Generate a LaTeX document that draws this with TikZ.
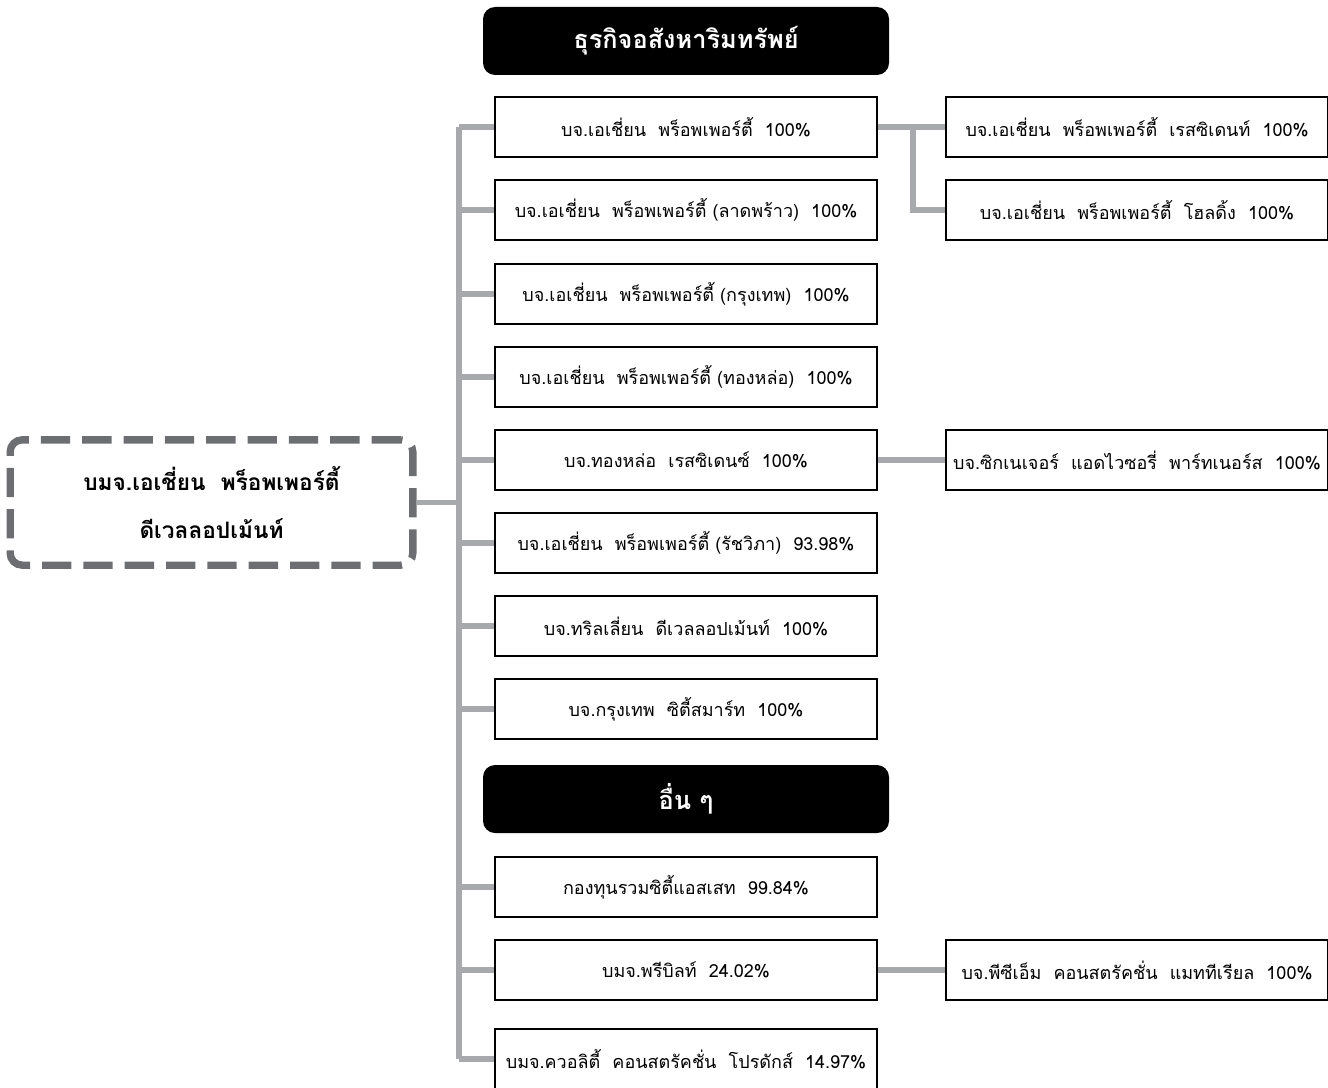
\documentclass[tikz,border=0pt]{standalone}
\usepackage{fontspec}
\newfontfamily\thaifont[Script=Thai]{Loma}
\definecolor{connGray}{HTML}{A7A9AC}
\definecolor{dashGray}{HTML}{6D6E71}
\begin{document}
\begin{tikzpicture}[
    x=0.75pt, y=-0.75pt,
    box/.style={draw, line width=0.9pt, minimum width=286.5pt,
                minimum height=45pt, font=\thaifont\fontsize{13.5}{16}\selectfont, align=center},
    hdr/.style={fill=black, rounded corners=9pt, minimum width=304.5pt,
                minimum height=51pt, text=white, font=\thaifont\bfseries\fontsize{19}{22}\selectfont},
    conn/.style={draw=connGray, line width=3.8pt}
  ]
  \useasboundingbox (0,0) rectangle (1328,1088);
  \node[draw=dashGray, line width=5.5pt, dash pattern=on 22pt off 9pt, rounded corners=9pt,
        minimum width=302pt, minimum height=94pt, align=center,
        font=\thaifont\bfseries\fontsize{17}{36}\selectfont] (root) at (211.5,502.5)
        {บมจ.เอเชี่ยน\ \ พร็อพเพอร์ตี้\\ดีเวลลอปเม้นท์};

  \node[hdr] (hdrprop) at (686,41) {ธุรกิจอสังหาริมทรัพย์};
  \node[box] (ap) at (686,127) {บจ.เอเชี่ยน\ \ พร็อพเพอร์ตี้\ \ 100\%};
  \node[box] (aplp) at (686,210) {บจ.เอเชี่ยน\ \ พร็อพเพอร์ตี้ (ลาดพร้าว)\ \ 100\%};
  \node[box] (apbkk) at (686,294) {บจ.เอเชี่ยน\ \ พร็อพเพอร์ตี้ (กรุงเทพ)\ \ 100\%};
  \node[box] (aptl) at (686,377) {บจ.เอเชี่ยน\ \ พร็อพเพอร์ตี้ (ทองหล่อ)\ \ 100\%};
  \node[box] (tlres) at (686,460) {บจ.ทองหล่อ\ \ เรสซิเดนซ์\ \ 100\%};
  \node[box] (aprv) at (686,543) {บจ.เอเชี่ยน\ \ พร็อพเพอร์ตี้ (รัชวิภา)\ \ 93.98\%};
  \node[box] (trill) at (686,626) {บจ.ทริลเลี่ยน\ \ ดีเวลลอปเม้นท์\ \ 100\%};
  \node[box] (bcs) at (686,709) {บจ.กรุงเทพ\ \ ซิตี้สมาร์ท\ \ 100\%};

  \node[hdr] (hdrother) at (686,799) {อื่น ๆ};
  \node[box] (fund) at (686,887) {กองทุนรวมซิตี้แอสเสท\ \ 99.84\%};
  \node[box] (prebuilt) at (686,970) {บมจ.พรีบิลท์\ \ 24.02\%};
  \node[box] (quality) at (686,1059) {บมจ.ควอลิตี้\ \ คอนสตรัคชั่น\ \ โปรดักส์\ \ 14.97\%};

  \node[box] (apres) at (1137,127) {บจ.เอเชี่ยน\ \ พร็อพเพอร์ตี้\ \ เรสซิเดนท์\ \ 100\%};
  \node[box] (aphold) at (1137,210) {บจ.เอเชี่ยน\ \ พร็อพเพอร์ตี้\ \ โฮลดิ้ง\ \ 100\%};
  \node[box] (sig) at (1137,460) {บจ.ซิกเนเจอร์\ \ แอดไวซอรี่\ \ พาร์ทเนอร์ส\ \ 100\%};
  \node[box] (pcm) at (1137,970) {บจ.พีซีเอ็ม\ \ คอนสตรัคชั่น\ \ แมททีเรียล\ \ 100\%};

  \coordinate (trunk) at (459,127);
  \coordinate (split) at (913,127);

  \draw[conn] (ap.west -| trunk) -- (quality.west -| trunk);
  \draw[conn] (root.east) -- (root.east -| trunk);
  \foreach \n in {ap,aplp,apbkk,aptl,tlres,aprv,trill,bcs,fund,prebuilt,quality}
    \draw[conn] (\n.west -| trunk) -- (\n.west);

  \draw[conn] (ap.east) -- (apres.west);
  \draw[conn] (split) |- (aphold.west);
  \draw[conn] (tlres.east) -- (sig.west);
  \draw[conn] (prebuilt.east) -- (pcm.west);
\end{tikzpicture}
\end{document}
